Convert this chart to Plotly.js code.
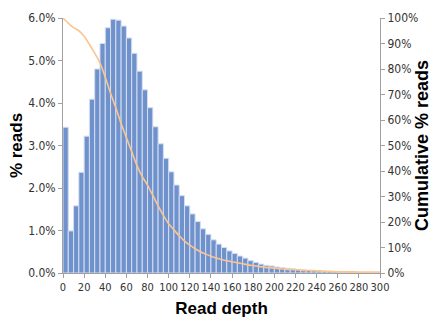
<!DOCTYPE html>
<html>
<head>
<meta charset="utf-8">
<script src="https://cdn.plot.ly/plotly-3.0.1.min.js"></script>
<style>html,body{margin:0;padding:0;background:#fff;}#chart{width:432px;height:320px;}</style>
</head>
<body>
<div id="chart"></div>
<script>
// Bin start (read depth), bin width 5
var binStarts = [0,5,10,15,20,25,30,35,40,45,50,55,60,65,70,75,80,85,90,95,
  100,105,110,115,120,125,130,135,140,145,150,155,160,165,170,175,180,185,190,195,
  200,205,210,215,220,225,230,235,240,245,250,255,260,265,270,275,280,285,290,295];
// % reads per bin
var pctReads = [3.43,0.99,1.58,2.37,3.22,4.09,4.80,5.40,5.77,5.97,
  5.95,5.81,5.53,5.17,4.75,4.31,3.89,3.44,3.04,2.70,
  2.38,2.07,1.82,1.58,1.39,1.21,1.04,0.91,0.78,0.68,
  0.60,0.52,0.46,0.40,0.35,0.29,0.25,0.21,0.18,0.165,
  0.14,0.125,0.11,0.10,0.085,0.075,0.065,0.055,0.05,0.04,
  0.035,0.03,0.02,0.02,0.015,0.01,0.01,0.01,0.005,0.005];
// Cumulative curve sample points
var cumDepth = [0,5,10,15,20,25,30,35,40,45,50,55,60,65,70,75,80,85,90,95,
  100,105,110,115,120,125,130,135,140,145,150,155,160,165,170,175,180,185,190,195,
  200,205,210,215,220,225,230,235,240,245,250,255,260,270,280,290,300];
var cumPct = [100,98,96.2,95.0,92.8,89.6,86.2,82.3,76.8,70.5,64.8,58.6,53.1,47.6,42.1,37.8,34.5,30.4,26.3,22.6,
  19.3,16.9,14.6,12.5,10.9,9.5,8.3,7.4,6.6,5.9,5.3,4.8,4.4,4.0,3.6,3.2,2.9,2.6,2.3,2.1,
  1.9,1.7,1.5,1.35,1.25,1.1,1.0,0.95,0.9,0.8,0.7,0.6,0.5,0.45,0.4,0.4,0.4];
var xTicks = [0,20,40,60,80,100,120,140,160,180,200,220,240,260,280,300];
var leftTicks = [0,1,2,3,4,5,6];
var leftTickText = ['0.0%','1.0%','2.0%','3.0%','4.0%','5.0%','6.0%'];
var rightTicks = [0,10,20,30,40,50,60,70,80,90,100];
var rightTickText = ['0%','10%','20%','30%','40%','50%','60%','70%','80%','90%','100%'];

var TICKFONT = '"DejaVu Sans Condensed", "Liberation Sans", Arial, sans-serif';
var TITLEFONT = '"Liberation Sans", Arial, sans-serif';

var traces = [
  {
    type: 'bar', x: binStarts, y: pctReads, width: 5, offset: 0,
    marker: {color: '#7092cc', line: {color: '#d4def1', width: 1}},
    hoverinfo: 'skip', showlegend: false
  },
  {
    type: 'scatter', mode: 'lines', x: cumDepth, y: cumPct, yaxis: 'y2',
    line: {color: '#fcc590', width: 1.6, shape: 'spline', smoothing: 0.6},
    hoverinfo: 'skip', showlegend: false
  }
];

var axisCommon = {
  showgrid: false, zeroline: false, showline: true, linecolor: '#a0a0a0', linewidth: 1,
  ticks: 'outside', ticklen: 4, tickcolor: '#a0a0a0', tickwidth: 1, tickangle: 0,
  tickfont: {family: TICKFONT, size: 12, color: '#333'}
};
var titleFont = {family: TITLEFONT, size: 17, color: '#000', weight: 'bold'};

var layout = {
  width: 432, height: 320,
  margin: {l: 63, r: 52, t: 18, b: 47},
  paper_bgcolor: '#fff', plot_bgcolor: '#fff',
  bargap: 0,
  showlegend: false,
  xaxis: Object.assign({}, axisCommon, {
    range: [0, 300], tickmode: 'array', tickvals: xTicks,
    tickfont: {family: TICKFONT, size: 11, color: '#333'},
    title: {text: 'Read depth', font: titleFont, standoff: 8}
  }),
  yaxis: Object.assign({}, axisCommon, {
    range: [0, 6], tickmode: 'array', tickvals: leftTicks, ticktext: leftTickText,
    title: {text: '% reads', font: titleFont, standoff: 1}
  }),
  yaxis2: Object.assign({}, axisCommon, {
    overlaying: 'y', side: 'right', anchor: 'x',
    range: [0, 100], tickmode: 'array', tickvals: rightTicks, ticktext: rightTickText,
    title: {text: 'Cumulative % reads', font: Object.assign({}, titleFont, {size: 18}), standoff: 5}
  })
};

Plotly.newPlot('chart', traces, layout, {displayModeBar: false, staticPlot: true});
</script>
</body>
</html>
